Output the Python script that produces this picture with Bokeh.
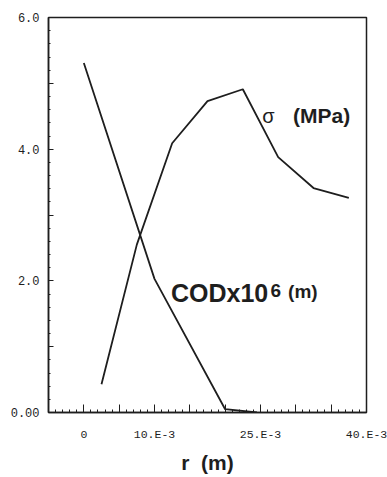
from bokeh.plotting import figure
from bokeh.models import FixedTicker, Range1d, Label
from bokeh.embed import file_html
from bokeh.resources import INLINE

# ---- data ----
cod_r = [0.0, 10.0e-3, 20.0e-3, 24.5e-3]
cod_val = [5.31, 2.03, 0.05, 0.0]

sigma_r = [2.5e-3, 7.5e-3, 12.5e-3, 17.5e-3, 22.5e-3, 27.5e-3, 32.5e-3, 37.5e-3]
sigma_val = [0.43, 2.55, 4.09, 4.73, 4.91, 3.88, 3.41, 3.26]

x_major_ticks = [-5e-3, 0.0, 5e-3, 10e-3, 15e-3, 20e-3, 25e-3, 30e-3, 35e-3, 40e-3]
x_minor_ticks = [i * 1e-3 for i in range(-5, 41)]
x_label_vals = [0.0, 10e-3, 25e-3, 40e-3]
x_label_text = ["0", "10.E-3", "25.E-3", "40.E-3"]

y_major_ticks = [0, 1, 2, 3, 4, 5, 6]
y_minor_ticks = [i * 0.2 for i in range(0, 31)]
y_label_vals = [0, 2, 4, 6]
y_label_text = ["0.00", "2.0", "4.0", "6.0"]

INK = "#1e1e1e"
TICK_FONT = "Liberation Mono"
SANS = "Liberation Sans"

p = figure(width=387, height=477,
           x_range=Range1d(-5e-3, 40e-3), y_range=Range1d(0, 6),
           output_backend="svg", toolbar_location=None,
           min_border_left=48, min_border_right=21,
           min_border_top=17, min_border_bottom=65)

p.grid.visible = False
p.outline_line_color = INK
p.outline_line_width = 1.5
p.background_fill_color = "white"
p.border_fill_color = "white"

# x axis
x_over = {v: "" for v in x_major_ticks}
x_over.update({v: t for v, t in zip(x_label_vals, x_label_text)})
xa = p.xaxis[0]
xa.ticker = FixedTicker(ticks=x_major_ticks, minor_ticks=x_minor_ticks)
xa.major_label_overrides = x_over
xa.major_tick_in = 8
xa.major_tick_out = 0
xa.minor_tick_in = 3
xa.minor_tick_out = 0
xa.axis_line_color = INK
xa.axis_line_width = 1.5
xa.major_tick_line_color = INK
xa.minor_tick_line_color = INK
xa.major_label_standoff = 15
xa.major_label_text_font = TICK_FONT
xa.major_label_text_font_size = "11.5px"
xa.major_label_text_color = INK
xa.axis_label = "r \u00a0(m)"
xa.axis_label_standoff = 7
xa.axis_label_text_font = SANS
xa.axis_label_text_font_style = "bold"
xa.axis_label_text_font_size = "21px"
xa.axis_label_text_color = INK

# y axis
y_over = {v: "" for v in y_major_ticks}
y_over.update({v: t for v, t in zip(y_label_vals, y_label_text)})
ya = p.yaxis[0]
ya.ticker = FixedTicker(ticks=y_major_ticks, minor_ticks=y_minor_ticks)
ya.major_label_overrides = y_over
ya.major_tick_in = 5
ya.major_tick_out = 0
ya.minor_tick_in = 2
ya.minor_tick_out = 0
ya.axis_line_color = INK
ya.axis_line_width = 1.5
ya.major_tick_line_color = INK
ya.minor_tick_line_color = INK
ya.major_label_standoff = 9
ya.major_label_text_font = TICK_FONT
ya.major_label_text_font_size = "12px"
ya.major_label_text_color = INK

# data lines
p.line(cod_r, cod_val, line_color=INK, line_width=1.8)
p.line(sigma_r, sigma_val, line_color=INK, line_width=1.8)

# curve annotations
p.add_layout(Label(x=25.25e-3, y=4.50, text="σ", text_align="left",
                   text_baseline="alphabetic", text_font=SANS,
                   text_font_size="20px", text_color=INK))
p.add_layout(Label(x=29.6e-3, y=4.51, text="(MPa)", text_align="left",
                   text_baseline="alphabetic", text_font=SANS, text_font_style="bold",
                   text_font_size="21px", text_color=INK))
p.add_layout(Label(x=12.33e-3, y=1.82, text="CODx10", text_align="left",
                   text_baseline="alphabetic", text_font=SANS, text_font_style="bold",
                   text_font_size="25px", text_color=INK))
p.add_layout(Label(x=26.4e-3, y=1.86, text="6", text_align="left",
                   text_baseline="alphabetic", text_font=SANS, text_font_style="bold",
                   text_font_size="19px", text_color=INK))
p.add_layout(Label(x=28.9e-3, y=1.84, text="(m)", text_align="left",
                   text_baseline="alphabetic", text_font=SANS, text_font_style="bold",
                   text_font_size="19px", text_color=INK))

open("out.html", "w").write(file_html(p, INLINE))
